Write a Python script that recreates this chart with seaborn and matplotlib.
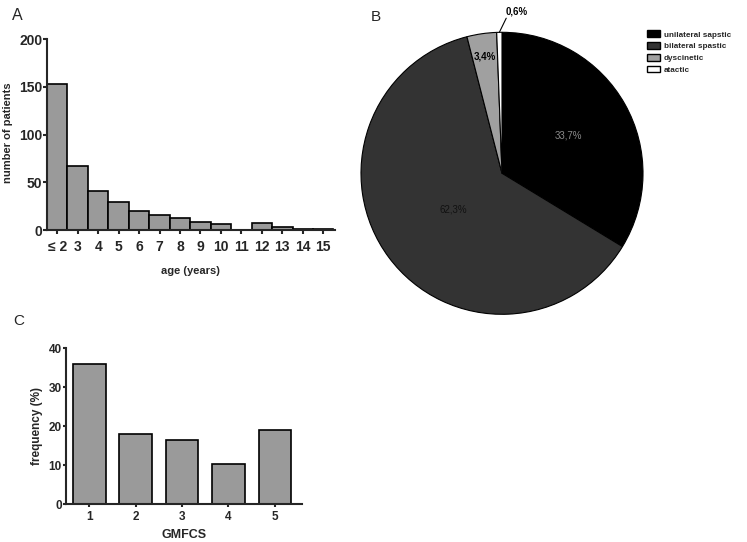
import numpy as np
import pandas as pd
import matplotlib
matplotlib.use("Agg")
import matplotlib.pyplot as plt
import seaborn as sns
from matplotlib.patches import Patch

# ---------------- data ----------------
age_labels = ["\u2264 2", "3", "4", "5", "6", "7", "8", "9", "10", "11", "12", "13", "14", "15"]
patients = [153, 67, 41, 29, 20, 16, 13, 8, 6, 0, 7, 3, 1, 1]

cp_types = ["unilateral sapstic", "bilateral spastic", "dyscinetic", "atactic"]
cp_share = [33.7, 62.3, 3.4, 0.6]
cp_share_labels = ["33,7%", "62,3%", "3,4%", "0,6%"]

gmfcs_levels = ["1", "2", "3", "4", "5"]
gmfcs_freq = [36.0, 18.0, 16.6, 10.4, 19.1]

# ---------------- style ----------------
sns.set_theme(style="ticks")
plt.rcParams["font.family"] = ["Liberation Sans", "DejaVu Sans"]
plt.rcParams["font.weight"] = "bold"
plt.rcParams["axes.linewidth"] = 1.5
plt.rcParams["xtick.major.width"] = 1.5
plt.rcParams["ytick.major.width"] = 1.5

BAR = "#9a9a9a"
W, H = 747, 542
fig = plt.figure(figsize=(W / 100, H / 100), dpi=100)
fig.patch.set_facecolor("white")

def ax_px(left, top, right, bottom):
    return fig.add_axes([left / W, 1 - bottom / H, (right - left) / W, (bottom - top) / H])

# ---------------- panel A ----------------
axA = ax_px(47, 39.3, 334.5, 230)
dfA = pd.DataFrame({"age": age_labels, "n": patients})
sns.barplot(data=dfA, x="age", y="n", ax=axA, color=BAR, width=1.0,
            edgecolor="black", linewidth=1.2, saturation=1)
axA.set_xlim(-0.5, 13.55)
axA.set_ylim(0, 200)
axA.set_yticks([0, 50, 100, 150, 200])
sns.despine(ax=axA)
axA.tick_params(axis="y", length=3, labelsize=10, pad=0.5)
axA.tick_params(axis="x", length=3, labelsize=10, pad=4)
for t in axA.get_xticklabels() + axA.get_yticklabels():
    t.set_fontweight("bold")
axA.set_xlabel("age (years)", fontsize=8, fontweight="bold", labelpad=9)
axA.set_ylabel("number of patients", fontsize=8, fontweight="bold")
axA.yaxis.set_label_coords((13.3 - 47) / 287.5, 0.51)

# ---------------- panel C ----------------
axC = ax_px(65.7, 348.3, 301.7, 504.3)
dfC = pd.DataFrame({"level": gmfcs_levels, "freq": gmfcs_freq})
sns.barplot(data=dfC, x="level", y="freq", ax=axC, color=BAR, width=0.7,
            edgecolor="black", linewidth=1.2, saturation=1)
axC.set_xlim(-0.51, 4.58)
axC.set_ylim(0, 40)
axC.set_yticks([0, 10, 20, 30, 40])
sns.despine(ax=axC)
axC.tick_params(axis="y", length=2.5, labelsize=8.5, pad=0.3)
axC.tick_params(axis="x", length=2.5, labelsize=8.5, pad=2.5)
for t in axC.get_xticklabels() + axC.get_yticklabels():
    t.set_fontweight("bold")
axC.set_xlabel("GMFCS", fontsize=9, fontweight="bold", labelpad=4)
axC.set_ylabel("frequency (%)", fontsize=8.5, fontweight="bold")
axC.yaxis.set_label_coords((43.3 - 65.7) / 236, 0.5)

# ---------------- panel B (pie) ----------------
cx, cy, r = 502, 173.3, 141
axB = ax_px(cx - r, cy - r, cx + r, cy + r)
pie_colors = ["#000000", "#333333", "#a0a0a0", "#ffffff"]
wedges, _ = axB.pie(cp_share, colors=pie_colors, startangle=90, counterclock=False,
                    wedgeprops=dict(edgecolor="black", linewidth=0.8))
axB.set_xlim(-1, 1)
axB.set_ylim(-1, 1)
axB.set_aspect("auto")
axB.axis("off")

label_r = [0.54, 0.43, 0.84, None]
label_col = ["#8a8a8a", "#111111", "#000000", "#000000"]
label_w = ["normal", "normal", "bold", "bold"]
for w, lab, rr, col, fw in zip(wedges, cp_share_labels, label_r, label_col, label_w):
    ang = np.deg2rad((w.theta1 + w.theta2) / 2)
    if rr is not None:
        axB.text(rr * np.cos(ang), rr * np.sin(ang), lab, ha="center", va="center",
                 fontsize=7, color=col, fontweight=fw)
    else:
        x0, y0 = np.cos(ang), np.sin(ang)
        axB.plot([x0, 0.03], [y0, 1.10], color="black", lw=0.8, clip_on=False)
        axB.text(0.026, 1.146, lab, ha="left", va="center", fontsize=7,
                 fontweight="bold", color="black", clip_on=False)

handles = [Patch(facecolor=c, edgecolor="black", linewidth=1.0) for c in pie_colors]
fig.legend(handles, cp_types, loc="upper left", bbox_to_anchor=(647 / W, 1 - 30.5 / H),
           frameon=False, prop=dict(weight="bold", size=5.9),
           handlelength=1.6, handleheight=0.85, handletextpad=0.45,
           labelspacing=0.45, borderpad=0, borderaxespad=0)

# ---------------- panel letters ----------------
letter_font = ["Liberation Sans", "DejaVu Sans"]
fig.text(12 / W, 1 - 16 / H, "A", fontsize=11.5, fontweight="normal", family=letter_font,
         ha="left", va="center")
fig.text(371 / W, 1 - 17 / H, "B", fontsize=11, fontweight="normal", family=letter_font,
         ha="left", va="center")
fig.text(13 / W, 1 - 321 / H, "C", fontsize=11, fontweight="normal", family=letter_font,
         ha="left", va="center")

fig.savefig("out.png", dpi=100, facecolor="white")
